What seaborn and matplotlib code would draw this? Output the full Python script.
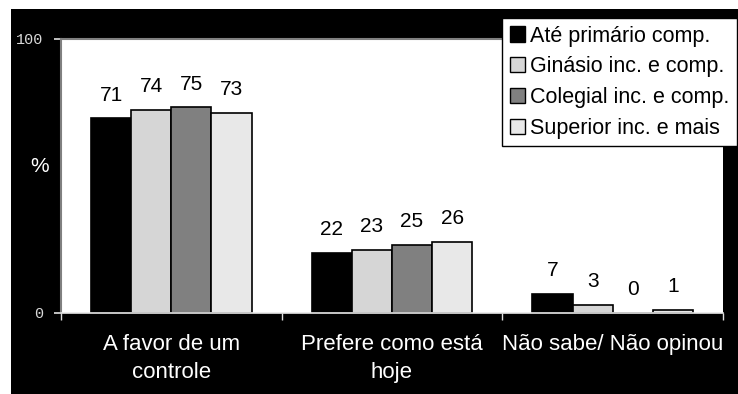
import matplotlib
matplotlib.use("Agg")
import matplotlib.pyplot as plt
import seaborn as sns
import pandas as pd
from matplotlib.patches import Rectangle, Patch

# Dados do gráfico
categorias = ["A favor de um\ncontrole", "Prefere como está\nhoje", "Não sabe/ Não opinou"]
escolaridade = ["Até primário comp.", "Ginásio inc. e comp.", "Colegial inc. e comp.", "Superior inc. e mais"]
ate_primario = [71, 22, 7]
ginasio = [74, 23, 3]
colegial = [75, 25, 0]
superior = [73, 26, 1]
cores = ["#000000", "#d6d6d6", "#808080", "#e8e8e8"]

series = [ate_primario, ginasio, colegial, superior]
linhas = []
for grupo, valores in zip(escolaridade, series):
    for cat, v in zip(categorias, valores):
        linhas.append({"categoria": cat, "grupo": grupo, "valor": v})
df = pd.DataFrame(linhas)

sns.set_theme(style="white")
plt.rcParams["font.family"] = ["Liberation Sans", "DejaVu Sans"]
plt.rcParams["text.color"] = "black"

W, H = 738, 394
fig = plt.figure(figsize=(W / 100, H / 100), dpi=100)
fig.patch.set_facecolor("white")

# moldura preta
fig.patches.append(Rectangle((11 / W, 0), 727 / W, 385 / H, transform=fig.transFigure,
                             facecolor="black", edgecolor="none", zorder=-5))

ax = fig.add_axes([61 / W, (H - 313) / H, 662 / W, 274 / H])
ax.set_facecolor("white")

sns.barplot(data=df, x="categoria", y="valor", hue="grupo", order=categorias,
            hue_order=escolaridade, palette=cores, saturation=1, width=0.727,
            errorbar=None, edgecolor="black", linewidth=1.2, legend=False, ax=ax)

for c in ax.containers:
    ax.bar_label(c, fmt="%d", padding=10, fontsize=15, color="black")

ax.set_ylim(0, 100)
ax.set_xlim(-0.5, 2.5)
ax.set_yticks([0, 100])
ax.set_yticklabels(["0", "100"], family="Liberation Mono", fontsize=11, color="#d8d8d8")
ax.tick_params(axis="y", direction="out", length=5, color="#d8d8d8", pad=8, left=True)

ax.set_xticks([0, 1, 2])
ax.set_xticklabels(categorias, fontsize=16, color="white")
for t in ax.get_xticklabels():
    t.set_linespacing(1.45)
ax.tick_params(axis="x", which="major", length=0, pad=15)
ax.set_xticks([-0.5, 0.5, 1.5, 2.5], minor=True)
ax.tick_params(axis="x", which="minor", direction="out", length=5, color="#e0e0e0", bottom=True)

ax.set_xlabel("")
ax.set_ylabel("%", rotation=0, fontsize=15, color="white")
ax.yaxis.set_label_coords(-0.0325, 0.5)

for lado in ["top", "left"]:
    ax.spines[lado].set_color("#808080")
    ax.spines[lado].set_linewidth(1.5)
ax.spines["right"].set_visible(False)
ax.spines["bottom"].set_color("#e8e8e8")
ax.spines["bottom"].set_linewidth(1.2)

handles = [Patch(facecolor=cor, edgecolor="black", linewidth=1) for cor in cores]
leg = fig.legend(handles, escolaridade, loc="upper right", bbox_to_anchor=(737 / W, 1 - 18 / H),
                 fontsize=15.5, frameon=True, fancybox=False, borderaxespad=0,
                 handlelength=0.7, handleheight=0.7, handletextpad=0.25,
                 labelspacing=0.45, borderpad=0.35)
leg.get_frame().set_edgecolor("black")
leg.get_frame().set_linewidth(1)
leg.get_frame().set_facecolor("white")
leg.get_frame().set_alpha(1)
for t in leg.get_texts():
    t.set_color("black")

fig.savefig("out.png", dpi=100, facecolor="white")
